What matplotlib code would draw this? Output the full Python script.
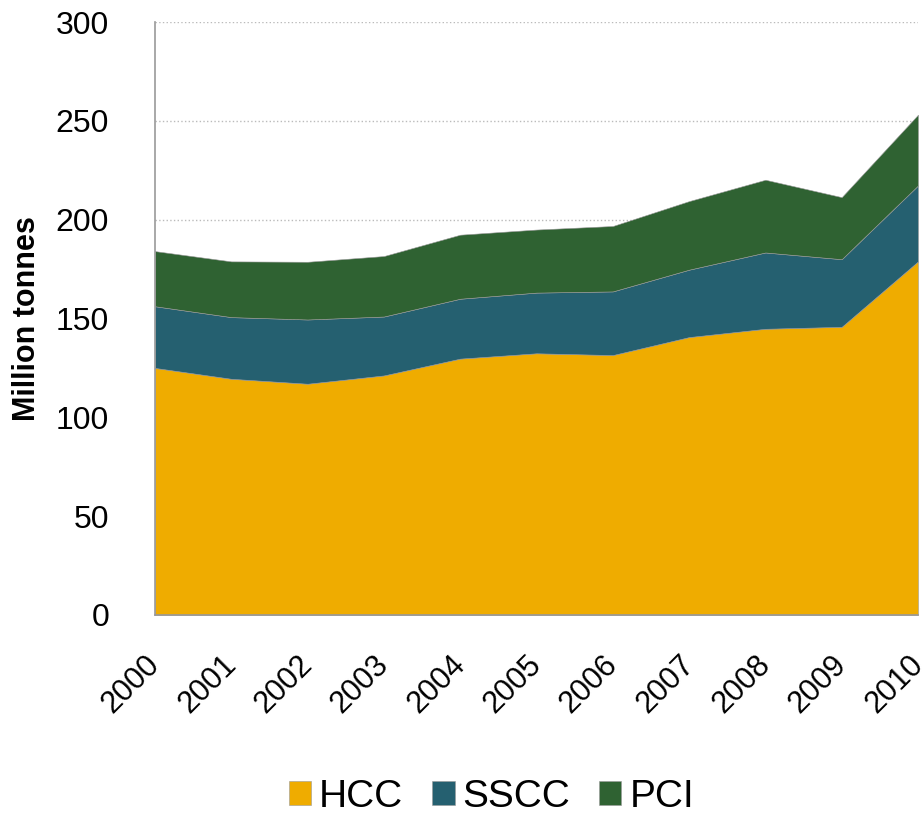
import matplotlib.pyplot as plt
import matplotlib.transforms as mtransforms

plt.rcParams['font.family'] = ['Liberation Sans', 'DejaVu Sans']

years = [2000, 2001, 2002, 2003, 2004, 2005, 2006, 2007, 2008, 2009, 2010]
hcc = [125.0, 119.5, 117.0, 121.2, 129.7, 132.4, 131.5, 140.6, 144.8, 145.8, 178.9]
sscc = [31.2, 31.2, 32.5, 29.8, 30.3, 30.7, 32.2, 34.1, 38.6, 34.2, 38.4]
pci = [27.9, 28.2, 29.2, 30.6, 32.4, 31.9, 33.1, 34.7, 36.8, 31.4, 35.8]
labels = ['HCC', 'SSCC', 'PCI']
colors = ['#EFAC00', '#256070', '#2F6232']

fig = plt.figure(figsize=(9.24, 8.15), dpi=100)
ax = fig.add_axes([0.1677, 0.2454, 0.8258, 0.7276])

ax.stackplot(years, hcc, sscc, pci, labels=labels, colors=colors,
             edgecolor='#9a9a9a', linewidth=0.4, zorder=2)

ax.set_xlim(2000, 2010)
ax.set_ylim(0, 300)
ax.set_yticks(range(0, 301, 50))
ax.set_xticks(years)
ax.set_xticklabels([str(y) for y in years], rotation=45, ha='right',
                   rotation_mode='anchor', fontsize=22)
ax.tick_params(axis='y', labelsize=23, length=0, pad=33)
ax.tick_params(axis='x', length=0, pad=25)
# nudge year labels a bit left, as in the original
shift = mtransforms.ScaledTranslation(-10 / 100, 0, fig.dpi_scale_trans)
for lbl in ax.get_xticklabels():
    lbl.set_transform(lbl.get_transform() + shift)

ax.grid(axis='y', color='#bbbbbb', linestyle=':', linewidth=1, zorder=0)
ax.set_axisbelow(True)
for s in ['top', 'right']:
    ax.spines[s].set_visible(False)
for s in ['left', 'bottom']:
    ax.spines[s].set_color('#999999')
    ax.spines[s].set_linewidth(1.2)

ax.set_ylabel('Million tonnes', fontsize=22, fontweight='bold', labelpad=10)

fig.legend(loc='center', bbox_to_anchor=(0.532, 0.022), ncol=3, frameon=False,
           fontsize=28, handlelength=0.57, handleheight=0.57, handletextpad=0.2,
           columnspacing=0.75)

fig.savefig('out.png', dpi=100)
